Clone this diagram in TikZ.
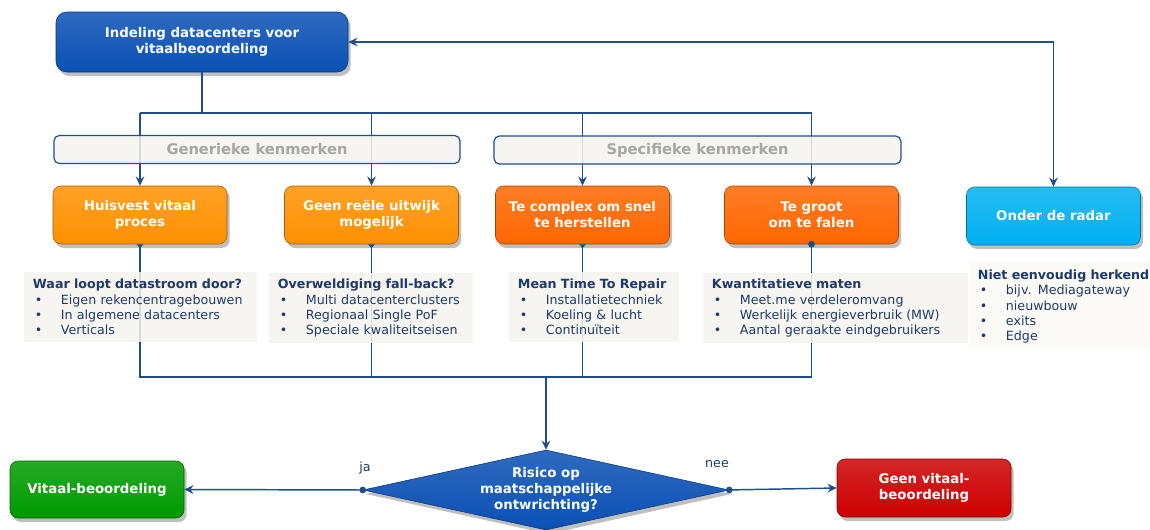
\documentclass[tikz,border=0pt]{standalone}
\usepackage{fontspec}
\setmainfont{DejaVu Sans}
\usetikzlibrary{arrows.meta,shapes.geometric,shadows}
\definecolor{lijn}{HTML}{1F4E8C}
\definecolor{donker}{HTML}{1F3A6A}
\definecolor{indelblauw}{HTML}{0A50B4}
\definecolor{lichtoranje}{HTML}{FF9000}
\definecolor{oranje}{HTML}{FF6600}
\definecolor{radarblauw}{HTML}{00B0F0}
\definecolor{groen}{HTML}{009A00}
\definecolor{rood}{HTML}{CC0000}
\definecolor{papier}{HTML}{F5F3EE}
\definecolor{kenmerk}{HTML}{A6A6A6}
\newcommand{\opsom}{\makebox[21pt][l]{\hspace{1.5pt}\textbullet}}
\tikzset{
  blok/.style={rounded corners=6pt, draw=#1!65!black, top color=#1!85!white, bottom color=#1,
    text=white, font=\fontsize{10}{12}\selectfont\bfseries, align=center,
    minimum width=130.5pt, minimum height=43.5pt,
    drop shadow={shadow xshift=2pt, shadow yshift=-3pt, opacity=.5}},
  label/.style={rounded corners=4pt, draw=lijn, line width=.9pt, fill=#1, fill opacity=.85, text opacity=1,
    text=kenmerk, font=\fontsize{11}{13}\selectfont\bfseries, minimum height=21pt},
  tekst/.style={anchor=north west, fill=#1, fill opacity=.85, text opacity=1, text=donker, align=left,
    inner xsep=6.5pt, inner ysep=3pt, font=\fontsize{9.5}{11.5}\selectfont},
  verb/.style={draw=lijn, line width=1.1pt},
  pijl/.style={verb, -{Stealth[length=7pt,width=6.5pt,inset=2.5pt]}},
  punt/.style={verb, {Circle[length=5pt]}-{Stealth[length=7pt,width=6.5pt,inset=2.5pt]}},
}
\begin{document}
\begin{tikzpicture}[x=0.75pt,y=-0.75pt]
\useasboundingbox (0,0) rectangle (1150,529);
\node[blok=indelblauw, minimum width=219pt, minimum height=45pt, rounded corners=8pt] (indel) at (202,42) {Indeling datacenters voor\\vitaalbeoordeling};
\node[blok=lichtoranje] (huis) at (140,215) {Huisvest vitaal\\proces};
\node[blok=lichtoranje] (uitw) at (371.5,215) {Geen reële uitwijk\\mogelijk};
\node[blok=oranje] (compl) at (582.5,215) {Te complex om snel\\te herstellen};
\node[blok=oranje] (groot) at (811.5,215) {Te groot\\om te falen};
\node[blok=radarblauw] (radar) at (1053.5,216) {Onder de radar};
\node[blok=indelblauw, diamond, minimum width=274.5pt, minimum height=60pt, inner sep=0pt, aspect=4.6, rounded corners=0pt] (risico) at (546,490) {Risico op\\maatschappelijke\\ontwrichting?};
\node[blok=groen, minimum height=42.75pt] (vitaal) at (97,489.5) {Vitaal-beoordeling};
\node[blok=rood] (geenv) at (924,488) {Geen vitaal-\\beoordeling};
\coordinate (split) at (202,113);
\coordinate (merge) at (546,377);
\draw[verb] (indel) -- (split);
\draw[verb] (huis.north |- split) -- (groot.north |- split);
\draw[pijl] (huis.north |- split) -- (huis.north);
\draw[pijl] (uitw.north |- split) -- (uitw.north);
\draw[pijl] (compl.north |- split) -- (compl.north);
\draw[pijl] (groot.north |- split) -- (groot.north);
\draw[verb, {Triangle[length=3pt,width=5pt,reversed]}-] (huis.south) -- (huis.south |- merge) -- (groot.south |- merge);
\draw[verb, {Triangle[length=3pt,width=5pt,reversed]}-] (uitw.south) -- (uitw.south |- merge);
\draw[verb, {Triangle[length=3pt,width=5pt,reversed]}-] (compl.south) -- (compl.south |- merge);
\draw[verb, {Circle[length=5pt]}-] ([yshift=2.5pt]groot.south) -- (groot.south |- merge);
\draw[pijl] (merge) -- (risico.north);
\draw[verb, {Stealth[length=7pt,width=6.5pt,inset=2.5pt]}-{Stealth[length=7pt,width=6.5pt,inset=2.5pt]}] (indel.east) -- (radar.north |- indel.east) -- (radar.north);
\draw[punt] ([xshift=2.5pt]risico.west) -- (vitaal.east);
\draw[punt] ([xshift=-2.5pt]risico.east) -- (geenv.west);
\node[text=donker, font=\fontsize{9.5}{11}\selectfont] (ja) at (365,468) {ja};
\node[text=donker, font=\fontsize{9.5}{11}\selectfont] (nee) at (717,464) {nee};
\node[label=papier, minimum width=304.5pt] (gen) at (257,149.5) {Generieke kenmerken};
\node[label=papier, minimum width=305.25pt] (spec) at (697.5,150) {Specifieke kenmerken};
\node[tekst=papier, text width=161.75pt, minimum height=52.5pt] (txhuis) at (24,272) {\textbf{Waar loopt datastroom door?}\\\opsom Eigen rekencentragebouwen\\\opsom In algemene datacenters\\\opsom Verticals};
\node[tekst=papier, text width=140pt, minimum height=52.5pt] (txuitw) at (269,273) {\textbf{Overweldiging fall-back?}\\\opsom Multi datacenterclusters\\\opsom Regionaal Single PoF\\\opsom Speciale kwaliteitseisen};
\node[tekst=papier, text width=114.5pt, minimum height=52.5pt] (txcompl) at (509,272) {\textbf{Mean Time To Repair}\\\opsom Installatietechniek\\\opsom Koeling \& lucht\\\opsom Continuïteit};
\node[tekst=papier, text width=185.75pt, minimum height=52.5pt] (txgroot) at (703,273) {\textbf{Kwantitatieve maten}\\\opsom Meet.me verdeleromvang\\\opsom Werkelijk energieverbruik (MW)\\\opsom Aantal geraakte eindgebruikers};
\node[tekst=papier!50!white, text width=132pt, minimum height=65.25pt] (txradar) at (969,263) {\mbox{\textbf{Niet eenvoudig herkend}}\\\opsom bijv. Mediagateway\\\opsom nieuwbouw\\\opsom exits\\\opsom Edge};
\end{tikzpicture}
\end{document}
